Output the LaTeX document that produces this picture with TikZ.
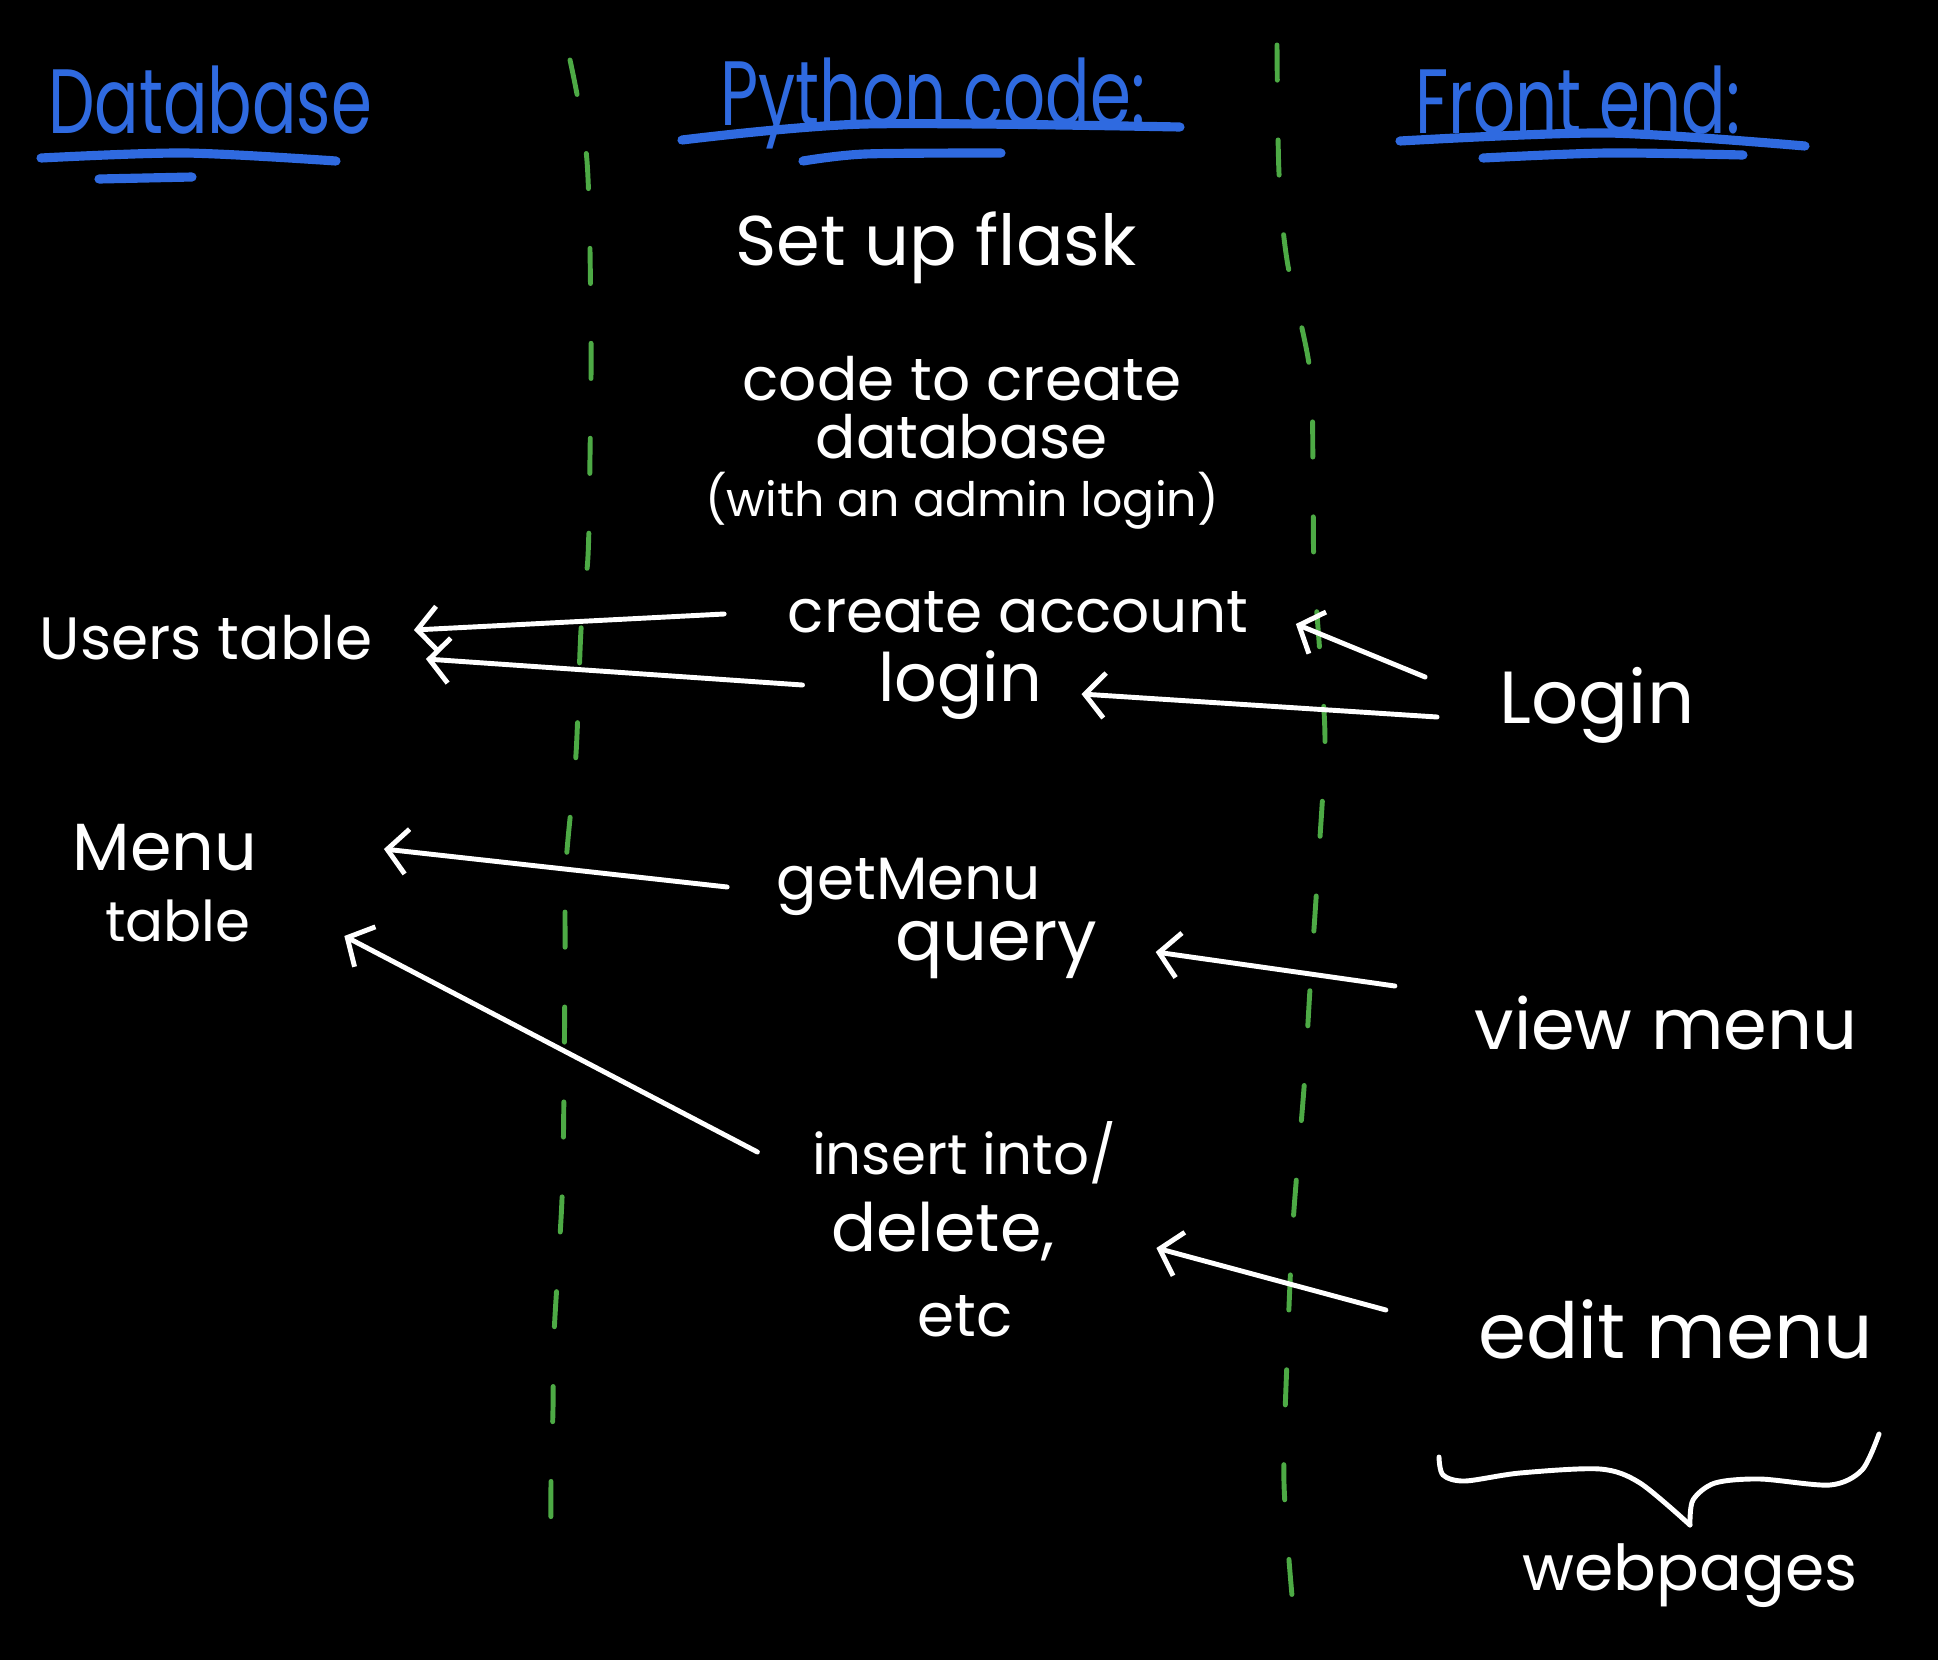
\documentclass[tikz,border=0pt]{standalone}
\usepackage{fontspec}
\setmainfont{Poppins}
\usepackage{graphicx}
\usetikzlibrary{arrows.meta,calc}
\definecolor{headblue}{HTML}{2F6AE0}
\definecolor{lanegreen}{HTML}{4DAA45}
\newcommand{\headtxt}[1]{\scalebox{.72}[1]{#1}}
\tikzset{
  hand/.style={text=white,inner sep=0pt,font=\fontsize{#1}{#1}\selectfont},
  hand/.default=19,
  head/.style={text=headblue,inner sep=0pt,font=\fontsize{26}{30}\selectfont},
  arr/.style={draw=white,line width=1.4pt,line cap=round,-{Straight Barb[length=2mm,width=4.5mm]}},
  lane/.style={draw=lanegreen,line width=1.4pt,line cap=round,dash pattern=on 10pt off 17pt},
  uline/.style={draw=headblue,line width=2.6pt,line cap=round},
  brace/.style={draw=white,line width=1.4pt,line cap=round},
}
\begin{document}
\begin{tikzpicture}[x=0.01cm,y=-0.01cm]
  \fill[black] (0,0) rectangle (1938,1660);
  % swim lanes
  \draw[lane] plot[smooth] coordinates {(570,60) (587,161) (591,334) (590,457) (588,556)
    (581,630) (576,754) (566,865) (565,964) (564,1088) (562,1199) (554,1335) (553,1409) (551,1483) (551,1572)};
  \draw[lane] plot[smooth] coordinates {(1277,45) (1279,173) (1287,260) (1310,371) (1313,482)
    (1314,569) (1320,655) (1325,742) (1319,853) (1310,989) (1304,1088) (1293,1224) (1287,1360) (1284,1483) (1293,1607)};
  % headings
  \node[head] (dbhead) at (210,100) {\headtxt{Database}};
  \node[head] (pyhead) at (933,103) {\headtxt{Python code:}};
  \node[head] (fehead) at (1578,100) {\headtxt{Front end:}};
  \draw[uline] plot[smooth] coordinates {(41,158) (185,153) (336,161)};
  \draw[uline] (99,179) -- (192,177);
  \draw[uline] plot[smooth] coordinates {(682,140) (865,124) (1180,127)};
  \draw[uline] plot[smooth] coordinates {(803,161) (865,154) (1001,153)};
  \draw[uline] plot[smooth] coordinates {(1400,141) (1607,133) (1805,146)};
  \draw[uline] plot[smooth] coordinates {(1483,158) (1607,153) (1743,155)};
  % python side
  \node[hand=20] (flask) at (936,248) {Set up flask};
  \node[hand,align=center,font=\fontsize{17}{16.5}\selectfont] (mkdb) at (962,443)
    {code to create\\database\\{\fontsize{13.5}{15}\selectfont (with an admin login)}};
  \node[hand=17] (acct) at (1018,612) {create account};
  \node[hand] (login) at (960,685) {login};
  \node[hand=17] (getmenu) at (909,887) {getMenu};
  \node[hand=20] (query) at (996,950) {query};
  \node[hand=16] (insert) at (964,1153) {insert into/};
  \node[hand] (delete) at (943,1232) {delete,};
  \node[hand=17] (etc) at (965,1316) {etc};
  % database side
  \node[hand=17] (users) at (206,638) {Users table};
  \node[hand] (menu) at (165,848) {Menu};
  \node[hand=16] (mtable) at (178,921) {table};
  % front end
  \node[hand=21] (felogin) at (1597,705) {Login};
  \node[hand=20] (viewmenu) at (1666,1023) {view menu};
  \node[hand=22] (editmenu) at (1676,1329) {edit menu};
  \node[hand=18] (webpages) at (1690,1576) {webpages};
  \draw[brace] plot[smooth] coordinates {(1439,1457) (1443,1475) (1465,1481) (1520,1473) (1600,1469) (1640,1483) (1690,1525)};
  \draw[brace] plot[smooth] coordinates {(1690,1525) (1693,1500) (1715,1483) (1760,1479) (1830,1485) (1862,1470) (1879,1434)};
  % arrows
  \draw[arr] ($(acct.west)+(-63,2)$) -- ($(users.east)+(41,-8)$);
  \draw[arr] ($(login.west)+(-75,0)$) -- ($(users.east)+(53,21)$);
  \draw[arr] ($(felogin.west)+(-74,-28)$) -- ($(acct.east)+(47,12)$);
  \draw[arr] ($(felogin.west)+(-62,12)$) -- ($(login.east)+(39,9)$);
  \draw[arr] ($(getmenu.west)+(-49,0)$) -- ($(menu.east)+(126,1)$);
  \draw[arr] ($(viewmenu.west)+(-79,-37)$) -- ($(query.east)+(58,2)$);
  \draw[arr] ($(insert.west)+(-54,-1)$) -- ($(mtable.east)+(93,15)$);
  \draw[arr] ($(editmenu.west)+(-92,-19)$) -- ($(delete.east)+(101,16)$);
\end{tikzpicture}
\end{document}
